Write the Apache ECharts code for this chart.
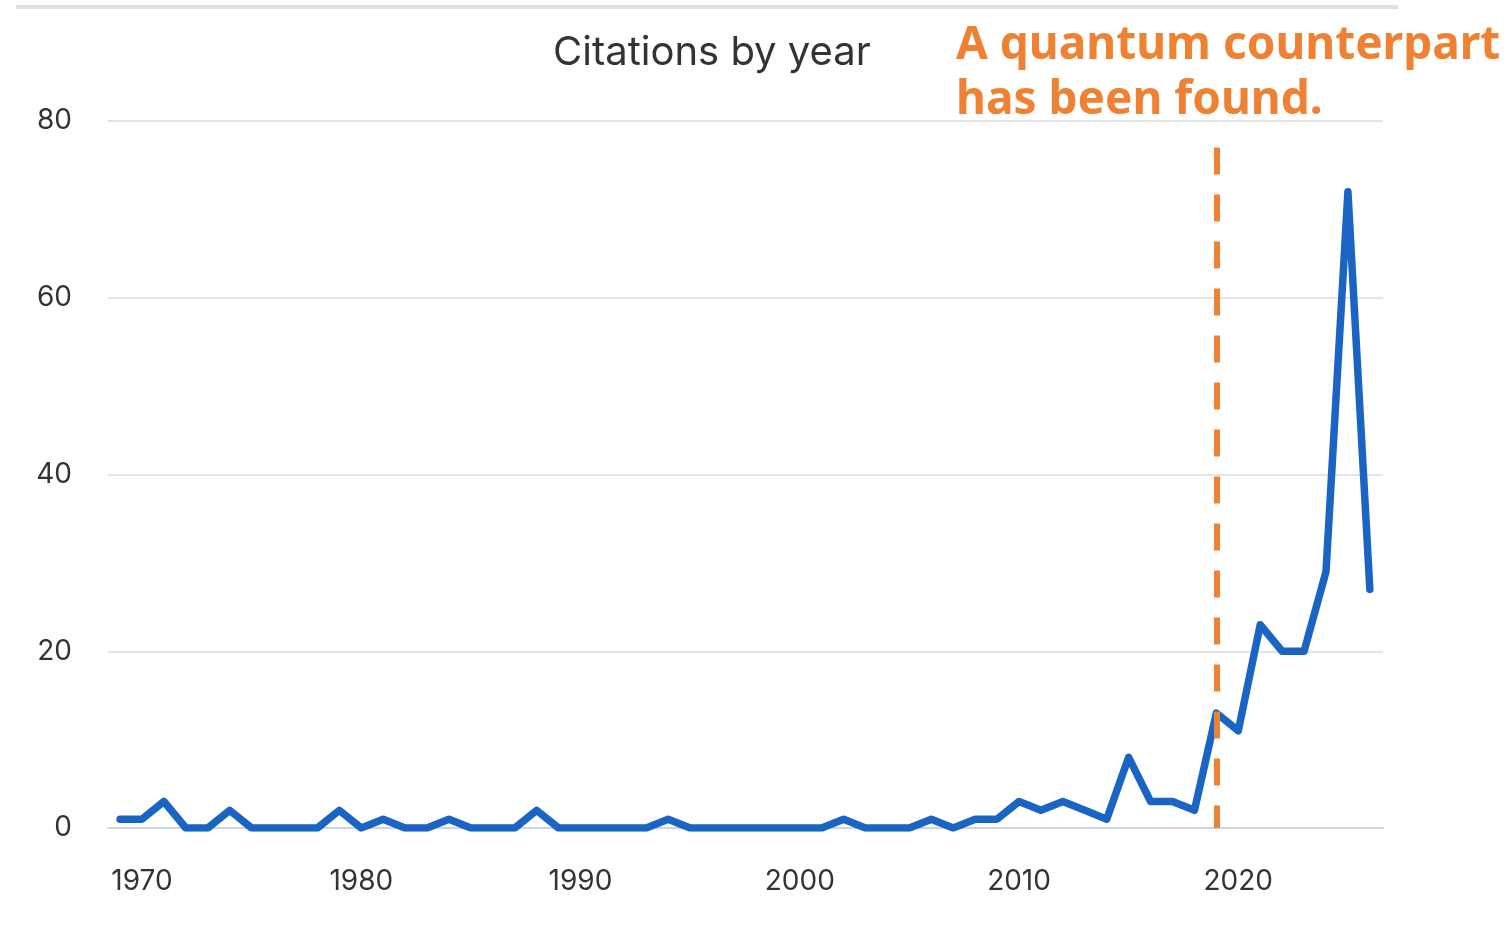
<!DOCTYPE html>
<html>
<head>
<meta charset="utf-8">
<title>Citations by year</title>
<script src="https://cdn.jsdelivr.net/npm/echarts@6/dist/echarts.min.js"></script>
<style>
  html, body { margin: 0; padding: 0; background: #ffffff; }
  #chart { width: 1508px; height: 926px; }
</style>
</head>
<body>
<div id="chart"></div>
<script>
// Yearly citation counts
const years = [
  1969, 1970, 1971, 1972, 1973, 1974, 1975, 1976, 1977, 1978,
  1979, 1980, 1981, 1982, 1983, 1984, 1985, 1986, 1987, 1988,
  1989, 1990, 1991, 1992, 1993, 1994, 1995, 1996, 1997, 1998,
  1999, 2000, 2001, 2002, 2003, 2004, 2005, 2006, 2007, 2008,
  2009, 2010, 2011, 2012, 2013, 2014, 2015, 2016, 2017, 2018,
  2019, 2020, 2021, 2022, 2023, 2024, 2025, 2026
];
const citations = [
  1, 1, 3, 0, 0, 2, 0, 0, 0, 0,
  2, 0, 1, 0, 0, 1, 0, 0, 0, 2,
  0, 0, 0, 0, 0, 1, 0, 0, 0, 0,
  0, 0, 0, 1, 0, 0, 0, 1, 0, 1,
  1, 3, 2, 3, 2, 1, 8, 3, 3, 2,
  13, 11, 23, 20, 20, 29, 72, 27
];
const xTickYears = [1970, 1980, 1990, 2000, 2010, 2020];
const yTicks = [0, 20, 40, 60, 80];

// Year the quantum counterpart appeared, and how high its marker reaches
const markerYear = 2019;
const markerTop = 77;

const titleText = 'Citations by year';
const noteText = 'A quantum counterpart\nhas been found.';

const seriesData = years.map((y, i) => [y, citations[i]]);

const chart = echarts.init(document.getElementById('chart'), null, { renderer: 'canvas' });

chart.setOption({
  backgroundColor: '#ffffff',
  animation: false,
  title: {
    text: titleText,
    left: 553,
    top: 33,
    padding: 0,
    textStyle: {
      fontFamily: 'Inter',
      fontSize: 40,
      fontWeight: 'normal',
      color: '#333333'
    }
  },
  graphic: [
    {
      type: 'rect',
      left: 16,
      top: 5,
      shape: { width: 1382, height: 4 },
      style: { fill: '#dde2e8' },
      silent: true
    },
    {
      type: 'text',
      left: 956,
      top: 18,
      style: {
        text: noteText,
        fontFamily: 'Noto Sans',
        fontWeight: 'bold',
        fontSize: 46,
        lineHeight: 55,
        fill: '#ef8133'
      },
      silent: true
    }
  ],
  grid: {
    left: 108,
    right: 125,
    top: 121,
    bottom: 98,
    containLabel: false
  },
  xAxis: {
    type: 'value',
    min: 1968.45,
    max: 2026.6,
    splitLine: { show: false },
    axisTick: { show: false },
    axisLine: {
      show: true,
      onZero: false,
      lineStyle: { color: '#cbd5e8', width: 2 }
    },
    axisLabel: {
      customValues: xTickYears,
      formatter: v => String(v),
      margin: 40,
      fontFamily: 'Inter',
      fontSize: 28,
      color: '#333333'
    }
  },
  yAxis: {
    type: 'value',
    min: yTicks[0],
    max: yTicks[yTicks.length - 1],
    interval: 20,
    axisLine: { show: false },
    axisTick: { show: false },
    splitLine: { lineStyle: { color: '#e4e4e4', width: 2 } },
    axisLabel: {
      margin: 36,
      fontFamily: 'Inter',
      fontSize: 28,
      color: '#333333'
    }
  },
  series: [
    {
      type: 'line',
      data: seriesData,
      showSymbol: false,
      silent: true,
      lineStyle: { color: '#1a64c4', width: 7.5, cap: 'round', join: 'round' },
      markLine: {
        silent: true,
        symbol: 'none',
        label: { show: false },
        lineStyle: { color: '#ef8133', width: 6, type: [27, 20] },
        data: [[
          { coord: [markerYear, markerTop] },
          { coord: [markerYear, 0] }
        ]]
      },
      z: 3
    }
  ]
});
</script>
</body>
</html>
